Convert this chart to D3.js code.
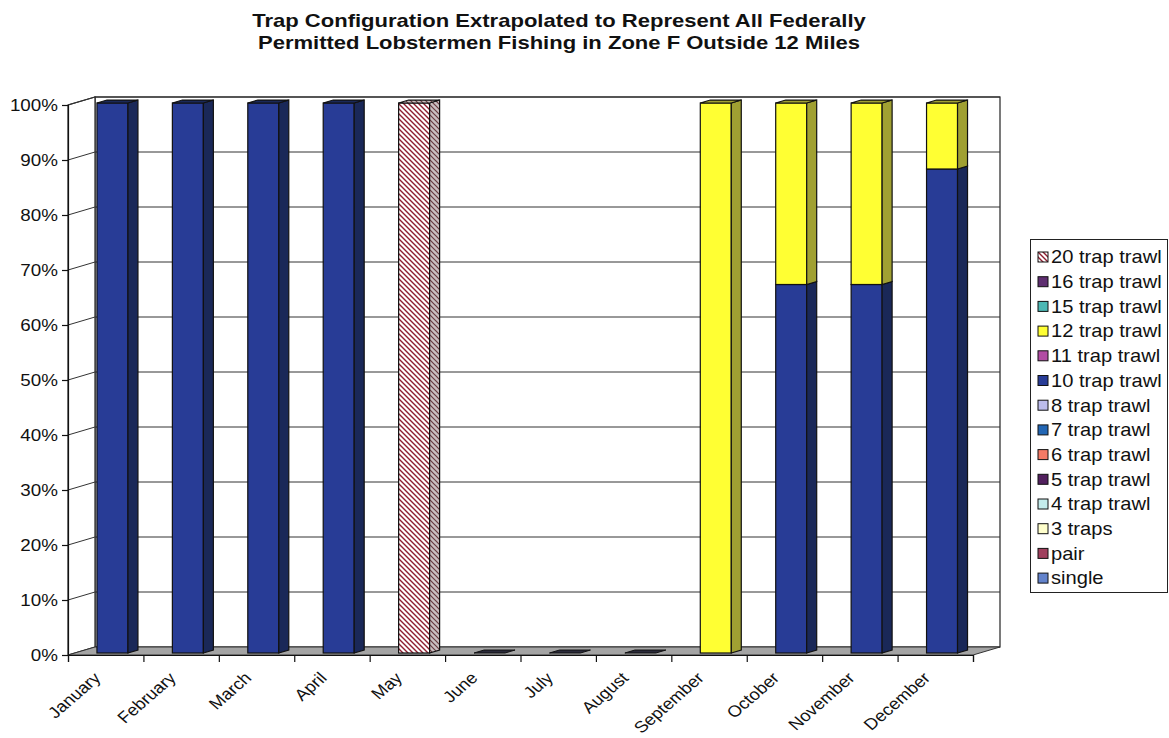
<!DOCTYPE html>
<html><head><meta charset="utf-8">
<script src="https://cdn.jsdelivr.net/npm/d3@7"></script>
<style>
body{margin:0;background:#fff;}
svg{font-family:Arial,"Liberation Sans",sans-serif;}
</style></head>
<body><svg id="c" width="1169" height="738"></svg>
<script>
const months = ["January","February","March","April","May","June","July","August","September","October","November","December"];
const seriesNames = ["single","pair","3 traps","4 trap trawl","5 trap trawl","6 trap trawl","7 trap trawl","8 trap trawl","10 trap trawl","11 trap trawl","12 trap trawl","15 trap trawl","16 trap trawl","20 trap trawl"];
const seriesColors = ["#6383CC","#A0405E","#FFFFCC","#C4ECEC","#52205E","#F47A66","#2266B4","#BCBCEC","#283C96","#B24CA4","#FFFF33","#4CB8B4","#5E2E70","hatch"];
const sideColors = ["#40589A","#702A40","#B0B090","#88A8A8","#381540","#B05848","#184880","#8484A8","#1A2858","#7A3470","#A0A032","#308080","#402050","hatchSide"];
// percent share per month, one array per series (January..December)
const single     = [0,0,0,0,0,0,0,0,0,0,0,0];
const pair       = [0,0,0,0,0,0,0,0,0,0,0,0];
const traps3     = [0,0,0,0,0,0,0,0,0,0,0,0];
const trawl4     = [0,0,0,0,0,0,0,0,0,0,0,0];
const trawl5     = [0,0,0,0,0,0,0,0,0,0,0,0];
const trawl6     = [0,0,0,0,0,0,0,0,0,0,0,0];
const trawl7     = [0,0,0,0,0,0,0,0,0,0,0,0];
const trawl8     = [0,0,0,0,0,0,0,0,0,0,0,0];
const trawl10    = [1,1,1,1,0,0,0,0,0,0.67,0.67,0.88];
const trawl11    = [0,0,0,0,0,0,0,0,0,0,0,0];
const trawl12    = [0,0,0,0,0,0,0,0,1,0.33,0.33,0.12];
const trawl15    = [0,0,0,0,0,0,0,0,0,0,0,0];
const trawl16    = [0,0,0,0,0,0,0,0,0,0,0,0];
const trawl20    = [0,0,0,0,1,0,0,0,0,0,0,0];
const seriesValues = [single,pair,traps3,trawl4,trawl5,trawl6,trawl7,trawl8,trawl10,trawl11,trawl12,trawl15,trawl16,trawl20];
const yTicks = [0,0.1,0.2,0.3,0.4,0.5,0.6,0.7,0.8,0.9,1];
const titleLines = ["Trap Configuration Extrapolated to Represent All Federally","Permitted Lobstermen Fishing in Zone F Outside 12 Miles"];

const svg = d3.select("#c");
const defs = svg.append("defs");
const p1 = defs.append("pattern").attr("id","hatch").attr("patternUnits","userSpaceOnUse").attr("width",5).attr("height",5);
p1.append("rect").attr("width",5).attr("height",5).attr("fill","#fff");
p1.append("path").attr("d","M-1,-1 L6,6 M-1,4 L1,6 M4,-1 L6,1").attr("stroke","#8E1E30").attr("stroke-width",1.4);
const p2 = defs.append("pattern").attr("id","hatchSide").attr("patternUnits","userSpaceOnUse").attr("width",5).attr("height",5);
p2.append("rect").attr("width",5).attr("height",5).attr("fill","#C8BFC0");
p2.append("path").attr("d","M-1,-1 L6,6 M-1,4 L1,6 M4,-1 L6,1").attr("stroke","#6A3A40").attr("stroke-width",1.2);
const fillOf = c => c.startsWith("hatch") ? `url(#${c})` : c;

// front plane geometry
const x0 = 68, x1 = 973;
const x = d3.scaleBand().domain(months).range([x0,x1]).paddingInner(0).paddingOuter(0);
const y = d3.scaleLinear().domain([0,1]).range([655,105]);
const DX = 27, DY = -8; // depth vector
const dFront = 0.25, dBack = 0.62;
const barW = 31;
const SX = 1.15; // horizontal text stretch seen in the reference

// Title
svg.append("g").selectAll("text").data(titleLines).join("text")
  .attr("transform",(d,i)=>`translate(559,${27+i*21.5}) scale(1.16,1)`).attr("text-anchor","middle")
  .attr("font-size",19).attr("font-weight","bold").attr("fill","#111").text(d=>d);

// walls
const g = svg.append("g");
g.append("rect").attr("x",x0+DX).attr("y",y(1)+DY).attr("width",x1-x0).attr("height",y(0)-y(1))
  .attr("fill","#fff").attr("stroke","#222").attr("stroke-width",1.2);
g.append("path").attr("d",`M${x0},${y(0)}L${x0},${y(1)}L${x0+DX},${y(1)+DY}L${x0+DX},${y(0)+DY}Z`)
  .attr("fill","#fff").attr("stroke","#222").attr("stroke-width",1.2);
g.selectAll(".grid").data(yTicks.filter(d=>d>0)).join("path")
  .attr("d",d=>`M${x0},${y(d)}L${x0+DX},${y(d)+DY}L${x1+DX},${y(d)+DY}`)
  .attr("fill","none").attr("stroke","#333").attr("stroke-width",1);
g.append("path").attr("d",`M${x0},${y(0)}L${x1},${y(0)}L${x1+DX},${y(0)+DY}L${x0+DX},${y(0)+DY}Z`)
  .attr("fill","#A4A4A4").attr("stroke","#333").attr("stroke-width",1);

// bars
const bars = svg.append("g");
months.forEach((m,i)=>{
  let cum = 0;
  const cx = x(m) + x.bandwidth()/2;
  const fx0 = cx - barW/2 + DX*dFront, fx1 = cx + barW/2 + DX*dFront;
  const oy = DY*dFront;
  const sx = DX*(dBack-dFront), sy = DY*(dBack-dFront);
  const segs = [];
  seriesValues.forEach((vals,k)=>{ if(vals[i]>0){ segs.push({k,y0:cum,y1:cum+vals[i]}); cum+=vals[i]; } });
  if(segs.length===0){
    const yb = y(0)+oy;
    bars.append("path").attr("d",`M${fx0},${yb}L${fx1},${yb}L${fx1+sx},${yb+sy}L${fx0+sx},${yb+sy}Z`)
      .attr("fill","#2A2A3A").attr("stroke","#111").attr("stroke-width",1);
    return;
  }
  segs.forEach((s,j)=>{
    const yb = y(s.y0)+oy, yt = y(s.y1)+oy;
    bars.append("rect").attr("x",fx0).attr("y",yt).attr("width",fx1-fx0).attr("height",yb-yt)
      .attr("fill",fillOf(seriesColors[s.k])).attr("stroke","#111").attr("stroke-width",1.2);
    bars.append("path").attr("d",`M${fx1},${yb}L${fx1+sx},${yb+sy}L${fx1+sx},${yt+sy}L${fx1},${yt}Z`)
      .attr("fill",fillOf(sideColors[s.k])).attr("stroke","#111").attr("stroke-width",1.2);
    if(j===segs.length-1){
      bars.append("path").attr("d",`M${fx0},${yt}L${fx1},${yt}L${fx1+sx},${yt+sy}L${fx0+sx},${yt+sy}Z`)
        .attr("fill",fillOf(sideColors[s.k])).attr("stroke","#111").attr("stroke-width",1.2);
    }
  });
});

// y axis
const yAxis = svg.append("g").attr("transform",`translate(${x0},0)`)
  .call(d3.axisLeft(y).tickValues(yTicks).tickFormat(d3.format(".0%")).tickSize(6).tickPadding(10));
yAxis.select(".domain").attr("stroke","#111").attr("stroke-width",1.2);
yAxis.selectAll("line").attr("stroke","#111").attr("stroke-width",1.2);
yAxis.selectAll("text").attr("x",null).attr("transform",`translate(-10,0) scale(1.14,1)`)
  .attr("font-size",16.5).attr("fill","#111").attr("font-family","Arial,'Liberation Sans',sans-serif");

// x axis ticks at category boundaries
const xi = d3.scaleLinear().domain([0,12]).range([x0,x1]);
const xAxis = svg.append("g").attr("transform",`translate(0,${y(0)})`)
  .call(d3.axisBottom(xi).tickValues(d3.range(13)).tickFormat("").tickSize(7));
xAxis.select(".domain").attr("stroke","#111").attr("stroke-width",1.2);
xAxis.selectAll("line").attr("stroke","#111").attr("stroke-width",1.2);
svg.append("g").selectAll("text").data(months).join("text")
  .attr("transform",d=>`translate(${x(d)+x.bandwidth()/2-4},${y(0)+24}) scale(${SX},1) rotate(-45)`)
  .attr("text-anchor","end").attr("font-size",16).attr("fill","#111").text(d=>d);

// legend
const lg = svg.append("g");
lg.append("rect").attr("x",1030.5).attr("y",239.5).attr("width",137).attr("height",353)
  .attr("fill","#fff").attr("stroke","#222").attr("stroke-width",1);
const legOrder = d3.range(seriesNames.length).reverse();
const items = lg.selectAll("g.item").data(legOrder).join("g").attr("class","item")
  .attr("transform",(d,i)=>`translate(1038,${257+i*24.7})`);
items.append("rect").attr("x",0).attr("y",-5).attr("width",10).attr("height",10)
  .attr("fill",k=>fillOf(seriesColors[k])).attr("stroke","#111").attr("stroke-width",1);
items.append("text").attr("transform",`translate(13,0) scale(${SX},1)`).attr("dy","0.36em")
  .attr("font-size",17.5).attr("fill","#111").text(k=>seriesNames[k]);
</script></body></html>
